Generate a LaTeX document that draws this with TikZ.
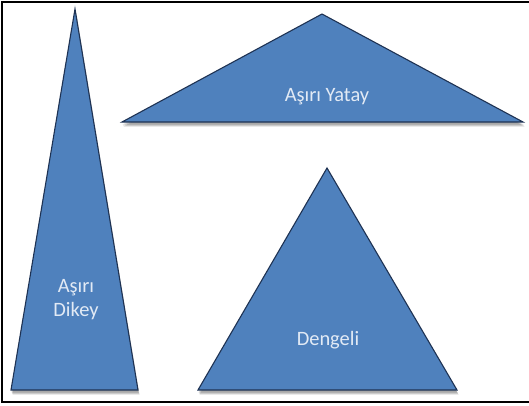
\documentclass[tikz,border=0pt]{standalone}
\usepackage{fontspec}
\setmainfont{Carlito}
\definecolor{triblue}{HTML}{4F81BD}
\definecolor{triedge}{HTML}{1E3253}
\definecolor{trilabel}{HTML}{E2EAF5}
\tikzset{
  tri/.style={fill=triblue, draw=triedge, line width=1.1bp, line join=miter},
  trishadow/.style={fill=black, opacity=0.13},
  trilabel/.style={text=trilabel, font=\fontsize{20.5}{24}\selectfont, align=center, inner sep=0pt},
  frame/.style={draw=black, line width=2.2bp}
}
% draws a triangle with a soft shadow below it
\newcommand{\shadedtri}[3]{%
  \foreach \dy/\dx in {4.5/1.5,3.5/1,2.5/0.5}{
    \path[trishadow] ([shift={(\dx,\dy)}]#1) -- ([shift={(\dx,\dy)}]#2) -- ([shift={(\dx,\dy)}]#3) -- cycle;
  }
  \path[tri] (#1) -- (#2) -- (#3) -- cycle;
}
\begin{document}
\begin{tikzpicture}[x=1bp, y=-1bp]
  \useasboundingbox (0,0) rectangle (529,405);
  \fill[white] (0,0) rectangle (529,405);
  % outer frame (right side runs off the page)
  \draw[frame] (531,2) -- (2,2) -- (2,402) -- (531,402);

  % tall triangle
  \coordinate (v1) at (75,9);
  \coordinate (v2) at (11,390);
  \coordinate (v3) at (138,390);
  \shadedtri{v1}{v2}{v3}
  \node[trilabel] (dikey) at (76,300) {Aşırı\\Dikey};

  % wide triangle
  \coordinate (h1) at (322,14);
  \coordinate (h2) at (122,122);
  \coordinate (h3) at (523,122);
  \shadedtri{h1}{h2}{h3}
  \node[trilabel] (yatay) at (327,97) {Aşırı Yatay};

  % balanced triangle
  \coordinate (b1) at (327,168);
  \coordinate (b2) at (198,390);
  \coordinate (b3) at (457,390);
  \shadedtri{b1}{b2}{b3}
  \node[trilabel] (dengeli) at (328,340) {Dengeli};
\end{tikzpicture}
\end{document}
